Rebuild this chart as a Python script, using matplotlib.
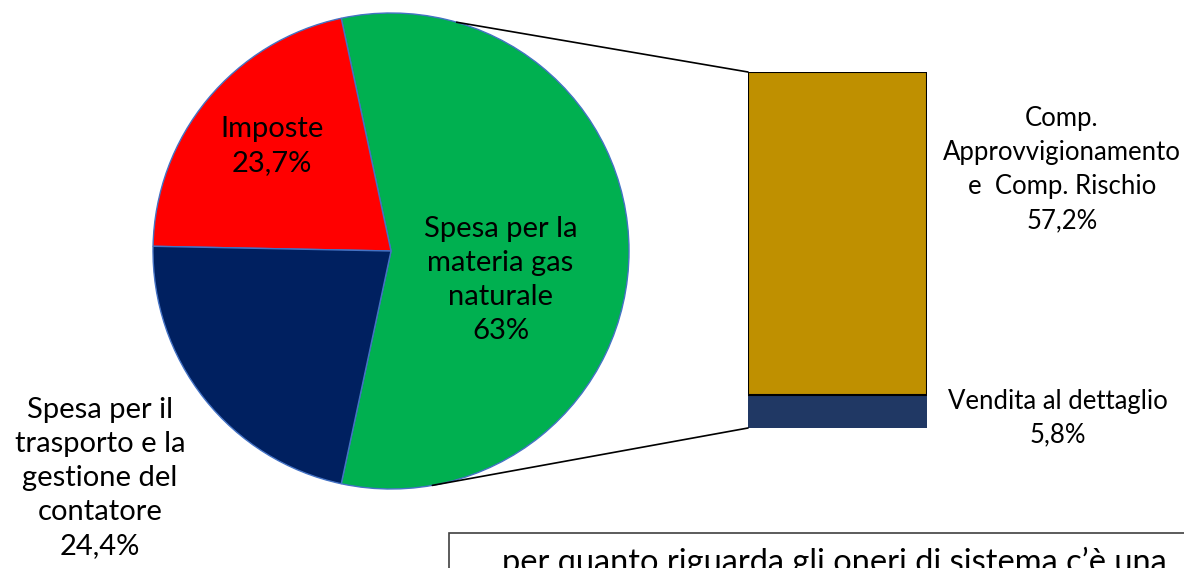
import matplotlib
matplotlib.use("Agg")
import matplotlib.pyplot as plt
from matplotlib.patches import ConnectionPatch, Rectangle
import numpy as np

plt.rcParams['font.family'] = ['Lato', 'DejaVu Sans']

# dati
pie_labels = ["Spesa per la\nmateria gas\nnaturale\n63%", "Imposte\n23,7%",
              "Spesa per il\ntrasporto e la\ngestione del\ncontatore\n24,4%"]
pie_values = [63, 23.7, 24.4]
pie_colors = ["#00B050", "#FF0000", "#002060"]

bar_labels = ["Vendita al dettaglio\n5,8%", "Comp.\nApprovvigionamento\ne  Comp. Rischio\n57,2%"]
bar_values = [5.8, 57.2]
bar_colors = ["#203864", "#BF9000"]

W, H = 1184, 568
fig = plt.figure(figsize=(W / 100, H / 100), dpi=100)

def box(x0, y0, x1, y1):
    # pixel box (top-left origin) -> figure fraction
    return [x0 / W, 1 - y1 / H, (x1 - x0) / W, (y1 - y0) / H]

# torta
ax1 = fig.add_axes(box(153, 13, 629, 489))
start = -pie_values[0] / sum(pie_values) * 180
wedges, _ = ax1.pie(pie_values, colors=pie_colors, startangle=start, radius=1,
                    wedgeprops=dict(edgecolor="#4472C4", linewidth=1))
ax1.set_xlim(-1, 1)
ax1.set_ylim(-1, 1)
ax1.set_aspect("equal")
ax1.axis("off")

fs = 21
ls = 1.38
ax1.text(0.46, -0.12, pie_labels[0], ha="center", va="center", fontsize=fs, linespacing=ls)
ax1.text(-0.50, 0.44, pie_labels[1], ha="center", va="center", fontsize=fs, linespacing=ls)
fig.text(100 / W, 1 - 478 / H, pie_labels[2], ha="center", va="center", fontsize=fs, linespacing=ls)

# barra
ax2 = fig.add_axes(box(748, 72, 927, 428))
bottom = 0
for v, c in zip(bar_values, bar_colors):
    ax2.bar(0, v, width=1, bottom=bottom, color=c, edgecolor="none")
    bottom += v
ax2.bar(0, bar_values[1], width=1, bottom=bar_values[0], color="none", edgecolor="black", linewidth=1.5)
ax2.set_xlim(-0.5, 0.5)
ax2.set_ylim(0, sum(bar_values))
ax2.axis("off")

fig.text(1058 / W, 1 - 418 / H, bar_labels[0], ha="center", va="center", fontsize=18.5, linespacing=1.45)
fig.text(1062 / W, 1 - 170 / H, bar_labels[1], ha="center", va="center", fontsize=18.5, linespacing=1.45)

# linee di collegamento
for ang, y in [(74, sum(bar_values)), (-80, 0)]:
    t = np.deg2rad(ang)
    con = ConnectionPatch(xyA=(np.cos(t), np.sin(t)), coordsA=ax1.transData,
                          xyB=(-0.5, y), coordsB=ax2.transData, color="black", linewidth=1.2)
    fig.add_artist(con)

# riquadro di testo
fig.add_artist(Rectangle((449 / W, -0.1), 1.0, 1 - 533 / H + 0.1, transform=fig.transFigure,
                         facecolor="white", edgecolor="#404040", linewidth=1.2))
fig.text(834 / W, 1 - 547 / H, "per quanto riguarda gli oneri di sistema c\u2019\u00e8 una",
         ha="center", va="top", fontsize=23.5)

fig.savefig("out.png", dpi=100)
